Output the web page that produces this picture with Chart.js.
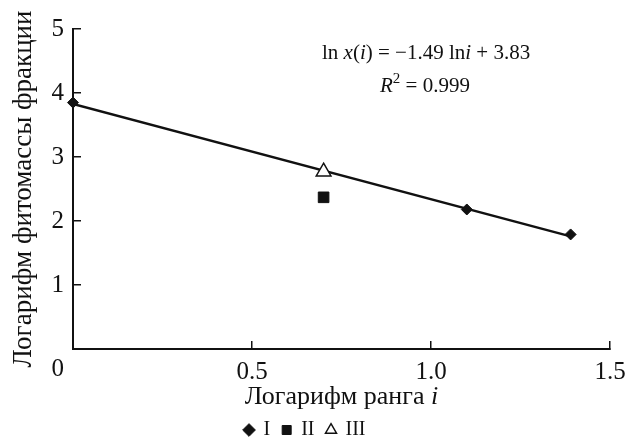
<!DOCTYPE html>
<html>
<head>
<meta charset="utf-8">
<script src="https://cdn.jsdelivr.net/npm/chart.js@4.4.1/dist/chart.umd.min.js"></script>
<style>
    html, body { margin: 0; padding: 0; background: #fff; }
    #wrap { width: 639px; height: 444px; }
</style>
</head>
<body>
<div id="wrap"><canvas id="grafico"></canvas></div>
<script>
// Dados (eixo x = ln i, eixo y = ln x(i))
const serieIx = [0, 1.10, 1.39];
const serieIy = [3.85, 2.18, 1.79];
const serieIIx = [0.70];
const serieIIy = [2.37];
const serieIIIx = [0.70];
const serieIIIy = [2.77];
// reta de regressão: ln x(i) = -1.49 ln i + 3.83 (extremos)
const retaX = [0, 1.39];
const retaY = [3.83, 1.76];

const nomes = ['I', 'II', 'III'];
const xTicks = ['', '0.5', '1.0', '1.5'];

const serif = "'Liberation Serif', 'DejaVu Serif', serif";

function pontos(xs, ys) {
    return xs.map((x, i) => ({ x: x, y: ys[i] }));
}

// desenha texto com trechos em fontes diferentes (itálico etc.)
function trechos(ctx, x, y, partes, centro) {
    let total = 0;
    partes.forEach(p => { ctx.font = p.f; total += ctx.measureText(p.t).width; });
    let cx = centro ? x - total / 2 : x;
    partes.forEach(p => {
        ctx.font = p.f;
        ctx.fillText(p.t, cx, y + (p.dy || 0));
        cx += ctx.measureText(p.t).width;
    });
}

const anotacoes = {
    id: 'anotacoes',
    afterDraw(chart) {
        const ctx = chart.ctx;
        const area = chart.chartArea;
        ctx.save();
        ctx.fillStyle = '#111';
        ctx.textBaseline = 'alphabetic';
        ctx.textAlign = 'left';

        const n = '21px ' + serif, it = 'italic 21px ' + serif;
        trechos(ctx, 322, 59, [
            { t: 'ln ', f: n }, { t: 'x', f: it }, { t: '(', f: n }, { t: 'i', f: it },
            { t: ')', f: n }, { t: ' = \u22121.49 ln', f: n }, { t: 'i', f: it },
            { t: ' + 3.83', f: n }
        ]);
        trechos(ctx, 380, 92, [
            { t: 'R', f: it }, { t: '2', f: '15px ' + serif, dy: -9 }, { t: ' = 0.999', f: n }
        ]);

        // título do eixo x
        trechos(ctx, (area.left + area.right) / 2, 404, [
            { t: 'Логарифм ранга ', f: '26px ' + serif },
            { t: 'i', f: 'italic 26px ' + serif }
        ], true);

        // zero comum na origem
        ctx.font = '25px ' + serif;
        ctx.textAlign = 'right';
        ctx.textBaseline = 'middle';
        ctx.fillText('0', area.left - 9, area.bottom + 20);
        ctx.restore();
    }
};

const ctx = document.getElementById('grafico').getContext('2d');
const grafico = new Chart(ctx, {
    type: 'scatter',
    data: {
        datasets: [
            {
                label: 'reta',
                type: 'line',
                data: pontos(retaX, retaY),
                borderColor: '#111',
                borderWidth: 2.5,
                pointRadius: 0,
                fill: false,
                order: 2
            },
            {
                label: nomes[0],
                data: pontos(serieIx, serieIy),
                pointStyle: 'rectRot',
                pointRadius: 5.5,
                backgroundColor: '#111',
                borderColor: '#111',
                borderWidth: 1,
                clip: false,
                order: 1
            },
            {
                label: nomes[1],
                data: pontos(serieIIx, serieIIy),
                pointStyle: 'rect',
                pointRadius: 7.5,
                backgroundColor: '#111',
                borderColor: '#111',
                borderWidth: 1,
                order: 1
            },
            {
                label: nomes[2],
                data: pontos(serieIIIx, serieIIIy),
                pointStyle: 'triangle',
                pointRadius: 8.5,
                backgroundColor: '#fff',
                borderColor: '#111',
                borderWidth: 1.5,
                order: 1
            }
        ]
    },
    options: {
        responsive: true,
        maintainAspectRatio: false,
        animation: false,
        layout: { padding: { top: 29, right: 29, bottom: -6, left: 0 } },
        plugins: {
            tooltip: { enabled: false },
            legend: {
                position: 'bottom',
                labels: {
                    filter: item => item.text !== 'reta',
                    usePointStyle: true,
                    boxWidth: 9,
                    boxHeight: 9,
                    padding: 12,
                    color: '#111',
                    font: { family: serif, size: 20 }
                }
            }
        },
        scales: {
            x: {
                type: 'linear',
                min: 0,
                max: 1.5,
                afterFit: s => { s.height = 59; s.paddingLeft = 0; s.paddingRight = 0; },
                border: { color: '#111', width: 2 },
                grid: {
                    drawOnChartArea: false,
                    drawTicks: true,
                    tickLength: -8,
                    color: '#111',
                    lineWidth: 1.5
                },
                ticks: {
                    stepSize: 0.5,
                    padding: 16,
                    color: '#111',
                    font: { family: serif, size: 25 },
                    callback: (v, i) => xTicks[i]
                }
            },
            y: {
                type: 'linear',
                min: 0,
                max: 5,
                afterFit: s => { s.width = 73; s.paddingTop = 0; s.paddingBottom = 0; },
                border: { color: '#111', width: 2 },
                grid: {
                    drawOnChartArea: false,
                    drawTicks: true,
                    tickLength: -8,
                    color: '#111',
                    lineWidth: 1.5
                },
                ticks: {
                    stepSize: 1,
                    padding: 17,
                    color: '#111',
                    font: { family: serif, size: 25 },
                    callback: v => (v === 0 ? '' : v)
                },
                title: {
                    display: true,
                    text: 'Логарифм фитомассы фракции',
                    color: '#111',
                    font: { family: serif, size: 27 },
                    padding: { top: 8, bottom: 0 }
                }
            }
        }
    },
    plugins: [anotacoes]
});
</script>
</body>
</html>
